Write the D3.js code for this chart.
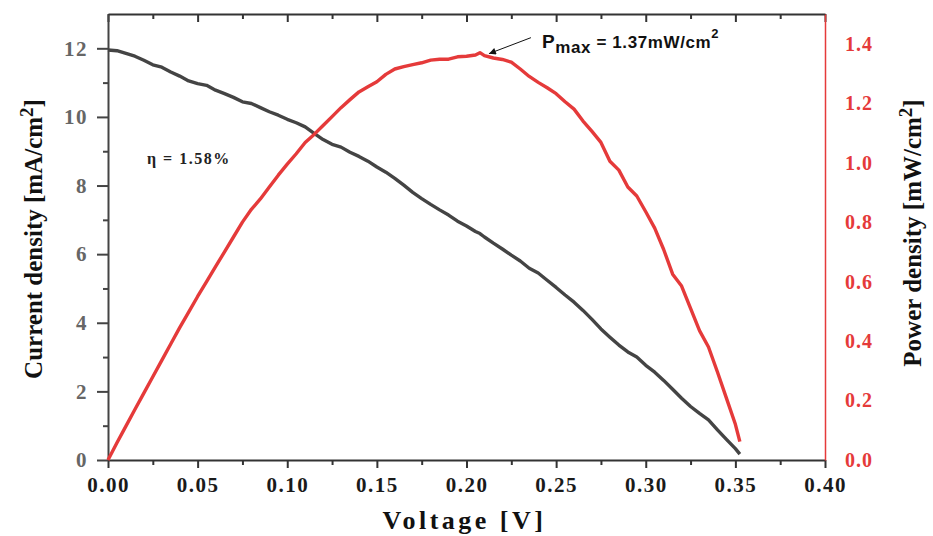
<!DOCTYPE html>
<html>
<head>
<meta charset="utf-8">
<script src="https://cdn.jsdelivr.net/npm/d3@7"></script>
<style>
  body { margin: 0; background: #fff; }
  svg { display: block; }
</style>
</head>
<body>
<script>
// J-V and P-V curve values
const voltage = [0, 0.005, 0.01, 0.015, 0.02, 0.025, 0.03, 0.035, 0.04, 0.045,
  0.05, 0.055, 0.06, 0.065, 0.07, 0.075, 0.08, 0.085, 0.09, 0.095,
  0.1, 0.105, 0.11, 0.115, 0.12, 0.125, 0.13, 0.135, 0.14, 0.145,
  0.15, 0.155, 0.16, 0.165, 0.17, 0.175, 0.18, 0.185, 0.19, 0.195,
  0.2, 0.205, 0.2075, 0.21, 0.215, 0.22, 0.225, 0.23, 0.235, 0.24, 0.245,
  0.25, 0.255, 0.26, 0.265, 0.27, 0.275, 0.28, 0.285, 0.29, 0.295,
  0.3, 0.305, 0.31, 0.315, 0.32, 0.325, 0.33, 0.335, 0.34, 0.345,
  0.35, 0.3525];

const currentDensity = [11.95, 11.93, 11.85, 11.77, 11.65, 11.52, 11.45, 11.31, 11.19, 11.05,
  10.97, 10.92, 10.78, 10.68, 10.57, 10.44, 10.39, 10.27, 10.15, 10.05,
  9.93, 9.83, 9.71, 9.52, 9.34, 9.20, 9.12, 8.97, 8.85, 8.71,
  8.54, 8.39, 8.21, 8.01, 7.80, 7.62, 7.45, 7.29, 7.14, 6.96,
  6.82, 6.66, 6.60, 6.50, 6.32, 6.15, 5.97, 5.80, 5.59, 5.45, 5.24,
  5.03, 4.81, 4.60, 4.36, 4.10, 3.82, 3.58, 3.35, 3.15, 3.00,
  2.76, 2.56, 2.32, 2.06, 1.80, 1.56, 1.36, 1.17, 0.88, 0.60,
  0.33, 0.17];

const powerDensity = [0, 0.058, 0.114, 0.170, 0.225, 0.280, 0.335, 0.390, 0.445, 0.497,
  0.550, 0.600, 0.650, 0.700, 0.750, 0.800, 0.843, 0.878, 0.918, 0.958,
  0.995, 1.030, 1.068, 1.095, 1.125, 1.155, 1.185, 1.212, 1.238, 1.255,
  1.272, 1.297, 1.315, 1.323, 1.330, 1.336, 1.345, 1.348, 1.348, 1.356,
  1.358, 1.362, 1.370, 1.360, 1.352, 1.347, 1.338, 1.315, 1.290, 1.270, 1.252,
  1.232, 1.205, 1.180, 1.140, 1.105, 1.068, 1.005, 0.975, 0.918, 0.888,
  0.835, 0.780, 0.708, 0.625, 0.585, 0.510, 0.435, 0.380, 0.296, 0.208,
  0.120, 0.062];

const xTicks = [0, 0.05, 0.1, 0.15, 0.2, 0.25, 0.3, 0.35, 0.4];
const xMinor = [0.025, 0.075, 0.125, 0.175, 0.225, 0.275, 0.325, 0.375];
const jTicks = [0, 2, 4, 6, 8, 10, 12];
const jMinor = [1, 3, 5, 7, 9, 11];
const pTicks = [0, 0.2, 0.4, 0.6, 0.8, 1.0, 1.2, 1.4];

const pmaxIndex = 42;

var width = 933, height = 536;
var margin = {top: 14, right: 108, bottom: 76, left: 108};
var w = width - margin.left - margin.right,
    h = height - margin.top - margin.bottom;

var serif = "'Liberation Serif', 'Times New Roman', serif";
var sans = "'Liberation Sans', Arial, sans-serif";
var red = "#e53a3a";

var svg = d3.select("body").append("svg")
  .attr("width", width)
  .attr("height", height);

var g = svg.append("g")
  .attr("transform", "translate(" + margin.left + "," + margin.top + ")");

// scales
var x = d3.scaleLinear().domain([0, 0.4]).range([0, w]);
var yJ = d3.scaleLinear().domain([0, 13]).range([h, 0]);
var yP = d3.scaleLinear().domain([0, 1.5]).range([h, 0]);

function styleAxis(sel, color) {
  sel.select(".domain").attr("stroke", color).attr("stroke-width", 2);
  sel.selectAll(".tick line").attr("stroke", color).attr("stroke-width", 2);
}

// bottom axis
var bottomAxis = g.append("g")
  .attr("transform", "translate(0," + h + ")")
  .call(d3.axisBottom(x).tickValues(xTicks).tickSize(8).tickSizeOuter(0).tickPadding(9)
    .tickFormat(d3.format(".2f")));
styleAxis(bottomAxis, "#333");
bottomAxis.selectAll("text")
  .attr("font-family", serif).attr("font-weight", "bold")
  .attr("font-size", 21).attr("fill", "#1a1a1a")
  .style("letter-spacing", "1.5px");

g.append("g")
  .attr("transform", "translate(0," + h + ")")
  .call(d3.axisBottom(x).tickValues(xMinor).tickSize(5).tickFormat(""))
  .call(function(s) { s.select(".domain").remove(); styleAxis(s, "#333"); });

// top axis, ticks pointing inside
var topAxis = g.append("g")
  .call(d3.axisBottom(x).tickValues(xTicks).tickSize(8).tickSizeOuter(0).tickFormat(""));
styleAxis(topAxis, "#333");
g.append("g")
  .call(d3.axisBottom(x).tickValues(xMinor).tickSize(5).tickFormat(""))
  .call(function(s) { s.select(".domain").remove(); styleAxis(s, "#333"); });

// left axis
var leftAxis = g.append("g")
  .call(d3.axisLeft(yJ).tickValues(jTicks).tickSize(11).tickSizeOuter(0).tickPadding(9));
styleAxis(leftAxis, "#444");
leftAxis.selectAll("text")
  .attr("font-family", serif).attr("font-weight", "bold")
  .attr("font-size", 21).attr("fill", "#666")
  .style("letter-spacing", "1.5px");
g.append("g")
  .call(d3.axisLeft(yJ).tickValues(jMinor).tickSize(5).tickFormat(""))
  .call(function(s) { s.select(".domain").remove(); styleAxis(s, "#444"); });

// right axis, red, no tick marks
var rightAxis = g.append("g")
  .attr("transform", "translate(" + w + ",0)")
  .call(d3.axisRight(yP).tickValues(pTicks).tickSize(0).tickPadding(20)
    .tickFormat(d3.format(".1f")));
rightAxis.select(".domain").attr("stroke", red).attr("stroke-width", 1.5);
rightAxis.selectAll("text")
  .attr("font-family", serif).attr("font-weight", "bold")
  .attr("font-size", 20).attr("fill", red)
  .style("letter-spacing", "1px");

// lines
var jLine = d3.line()
  .x(function(d, i) { return x(voltage[i]); })
  .y(function(d) { return yJ(d); });
var pLine = d3.line()
  .x(function(d, i) { return x(voltage[i]); })
  .y(function(d) { return yP(d); });

g.append("path")
  .datum(currentDensity)
  .attr("fill", "none")
  .attr("stroke", "#444")
  .attr("stroke-width", 3.4)
  .attr("stroke-linejoin", "round")
  .attr("d", jLine);

g.append("path")
  .datum(powerDensity)
  .attr("fill", "none")
  .attr("stroke", red)
  .attr("stroke-width", 3.4)
  .attr("stroke-linejoin", "round")
  .attr("d", pLine);

// axis titles
svg.append("text")
  .attr("x", margin.left + w / 2 - 2)
  .attr("y", 529)
  .attr("text-anchor", "middle")
  .attr("font-family", serif).attr("font-weight", "bold")
  .attr("font-size", 26).attr("fill", "#111")
  .style("letter-spacing", "3.5px")
  .text("Voltage [V]");

var lt = svg.append("text")
  .attr("transform", "translate(42," + (margin.top + h / 2 + 2) + ") rotate(-90)")
  .attr("text-anchor", "middle")
  .attr("font-family", serif).attr("font-weight", "bold")
  .attr("font-size", 25).attr("fill", "#111");
lt.append("tspan").text("Current density [mA/cm");
lt.append("tspan").attr("dy", -9).attr("font-size", 19).text("2");
lt.append("tspan").attr("dy", 9).text("]");

var rt = svg.append("text")
  .attr("transform", "translate(921," + (margin.top + h / 2 - 4) + ") rotate(-90)")
  .attr("text-anchor", "middle")
  .attr("font-family", serif).attr("font-weight", "bold")
  .attr("font-size", 25).attr("fill", "#111");
rt.append("tspan").text("Power density [mW/cm");
rt.append("tspan").attr("dy", -9).attr("font-size", 19).text("2");
rt.append("tspan").attr("dy", 9).text("]");

// annotations
svg.append("text")
  .attr("x", 147).attr("y", 164)
  .attr("font-family", serif).attr("font-weight", "bold")
  .attr("font-size", 16).attr("fill", "#222")
  .style("letter-spacing", "1.5px")
  .text("\u03b7 = 1.58%");

var px = margin.left + x(voltage[pmaxIndex]),
    py = margin.top + yP(powerDensity[pmaxIndex]);

svg.append("defs").append("marker")
  .attr("id", "head")
  .attr("viewBox", "0 0 10 10")
  .attr("refX", 10).attr("refY", 5)
  .attr("markerWidth", 14).attr("markerHeight", 7)
  .attr("markerUnits", "userSpaceOnUse")
  .attr("orient", "auto")
  .append("path").attr("d", "M0,0 L10,5 L0,10 z").attr("fill", "#111");

svg.append("line")
  .attr("x1", px + 51).attr("y1", py - 15)
  .attr("x2", px + 9).attr("y2", py + 1)
  .attr("stroke", "#111").attr("stroke-width", 1)
  .attr("marker-end", "url(#head)");

var pm = svg.append("text")
  .attr("x", 542).attr("y", 48)
  .attr("font-family", sans).attr("font-weight", "bold")
  .attr("font-size", 17).attr("fill", "#111")
  .style("letter-spacing", "0.6px");
pm.append("tspan").attr("font-size", 19).text("P");
pm.append("tspan").attr("dy", 5).attr("font-size", 17).text("max");
pm.append("tspan").attr("dy", -5).text(" = 1.37mW/cm");
pm.append("tspan").attr("dy", -10).attr("font-size", 13).text("2");
</script>
</body>
</html>
